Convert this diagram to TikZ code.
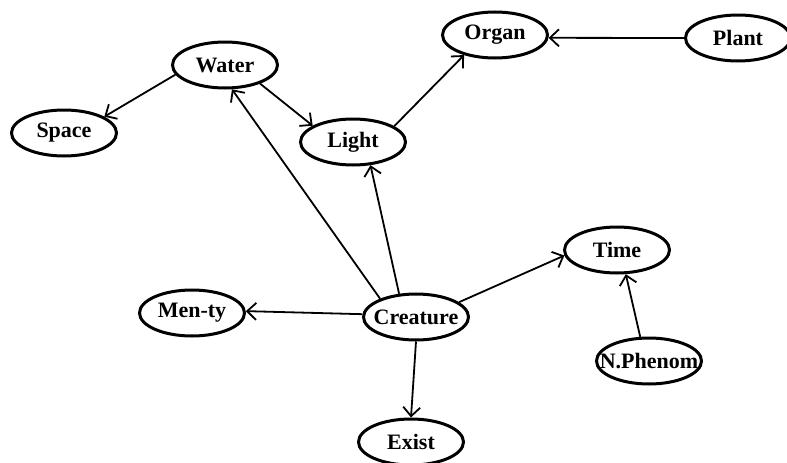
\documentclass[tikz,border=0pt]{standalone}
\usepackage{fontspec}
\setmainfont{Liberation Serif}
\usetikzlibrary{shapes.geometric,arrows.meta}
\begin{document}
\begin{tikzpicture}[x=1pt,y=-1pt,
  concept/.style={draw=black,line width=3pt,ellipse,inner sep=0pt,
    minimum width=105pt,minimum height=46pt,
    font=\fontsize{22}{24}\selectfont\bfseries},
  link/.style={draw=black,line width=1.8pt,
    -{Straight Barb[length=9pt,width=17pt,line width=1.8pt]}}]
\useasboundingbox (0,0) rectangle (787,463);
\node[concept] (water) at (225,65) {\makebox[0pt]{Water}};
\node[concept] (space) at (64,133) {\makebox[0pt]{Space}};
\node[concept] (light) at (353,142) {\makebox[0pt]{Light}};
\node[concept] (organ) at (495,35) {\makebox[0pt]{Organ}};
\node[concept] (plant) at (738,38) {\makebox[0pt]{Plant}};
\node[concept] (time) at (617,250) {\makebox[0pt]{Time}};
\node[concept] (menty) at (192,313) {\makebox[0pt]{Men-ty}};
\node[concept] (creature) at (416,317) {\makebox[0pt]{Creature}};
\node[concept] (nphenom) at (649,361) {\makebox[0pt]{N.Phenom}};
\node[concept] (exist) at (411,442) {\makebox[0pt]{Exist}};
\draw[link] (water.-169) -- (space.22);
\draw[link] (water.-28) -- (light.158);
\draw[link] (light.21) -- (organ.-147);
\draw[link] (plant.180) -- (organ.-3);
\draw[link] (creature.153) -- (water.-74);
\draw[link] (creature.126) -- (light.-53);
\draw[link] (creature.19) -- (time.-174);
\draw[link] (creature.177) -- (menty.2);
\draw[link] (creature.-90) -- (exist.90);
\draw[link] (nphenom.110) -- (time.-70);
\end{tikzpicture}
\end{document}
